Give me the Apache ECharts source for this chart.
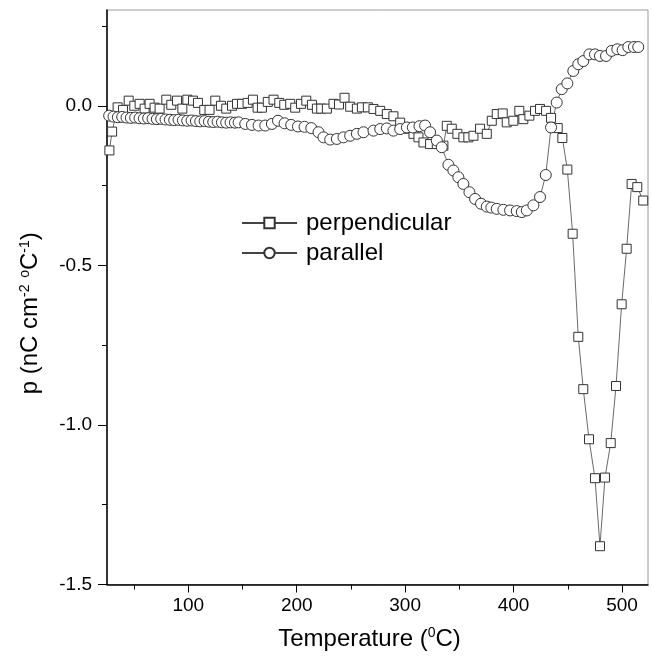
<!DOCTYPE html>
<html>
<head>
<meta charset="utf-8">
<script src="https://cdn.jsdelivr.net/npm/echarts@6/dist/echarts.min.js"></script>
<style>
html, body { margin: 0; padding: 0; background: #fff; }
#chartmain { width: 652px; height: 656px; }
</style>
</head>
<body>
<div id="chartmain"></div>
<script>
// perpendicular (squares)
var perpT = [27.2, 29.7, 34.8, 39.8, 45.0, 50.2, 55.1, 59.7, 64.3, 68.9, 73.5, 79.7, 84.3, 89.6, 94.5, 99.1,
    104.3, 108.9, 114.7, 119.6, 124.9, 130.1, 135.0, 140.3, 144.9, 149.5, 154.7, 159.6, 163.9, 167.9, 173.3,
    178.6, 183.9, 188.5, 194.0, 198.6, 203.9, 208.8, 214.0, 218.6, 222.6, 227.8, 233.9, 239.0, 244.1, 249.3,
    255.5, 260.1, 265.6, 270.8, 277.0, 283.1, 289.2, 295.4, 301.6, 307.7, 312.3, 316.9, 323.0, 329.2, 335.3,
    338.4, 343.0, 348.2, 353.7, 358.3, 363.0, 369.1, 375.3, 379.9, 384.5, 390.0, 393.7, 399.8, 405.3, 409.0,
    414.6, 419.8, 424.4, 430.0, 434.6, 440.7, 445.0, 449.6, 454.5, 459.7, 464.3, 469.6, 475.1, 479.7, 484.3,
    489.6, 494.5, 499.7, 504.3, 508.9, 514.1, 519.6];
var perpP = [-0.140, -0.081, -0.005, -0.013, 0.016, 0.000, 0.006, -0.009, 0.006, -0.006, -0.009, 0.019, 0.003, 0.016, -0.009, 0.019,
    0.016, 0.009, -0.013, -0.013, 0.016, 0.000, -0.009, 0.000, 0.006, 0.006, 0.009, 0.019, -0.006, -0.006, 0.012,
    0.019, 0.009, 0.003, 0.006, -0.006, 0.006, 0.016, 0.003, -0.009, -0.009, -0.009, 0.006, 0.004, 0.025, -0.003,
    -0.009, -0.005, -0.005, -0.010, -0.016, -0.026, -0.033, -0.053, -0.072, -0.088, -0.099, -0.115, -0.120, -0.120, -0.125,
    -0.063, -0.072, -0.088, -0.099, -0.099, -0.094, -0.072, -0.088, -0.047, -0.026, -0.024, -0.052, -0.047, -0.016, -0.042,
    -0.031, -0.016, -0.010, -0.016, -0.038, -0.070, -0.101, -0.200, -0.401, -0.724, -0.888, -1.045, -1.167, -1.380, -1.165,
    -1.057, -0.878, -0.622, -0.448, -0.245, -0.255, -0.297];

// parallel (circles)
var parT = [27, 31, 35, 39, 43, 47, 51, 55, 59, 63, 67, 71, 75, 79, 83, 87, 91, 95, 99, 103, 107, 111, 115, 119,
    123, 127, 131, 135, 139, 143, 146.4, 152.5, 158.7, 164.8, 171.0, 177.1, 182.7, 188.8, 194.9, 201.1, 207.2,
    213.4, 220.1, 224.7, 230.9, 237.0, 243.1, 249.3, 255.5, 261.6, 270.8, 277.0, 283.1, 289.2, 295.4, 301.6,
    307.1, 313.2, 318.4, 323.0, 329.2, 333.8, 339.9, 344.5, 349.1, 353.7, 359.3, 364.5, 370.0, 375.3, 379.5,
    384.5, 390.6, 396.8, 402.9, 407.6, 412.2, 418.3, 424.4, 429.7, 434.6, 439.8, 444.4, 449.6, 455.1, 459.7,
    464.3, 469.9, 475.1, 479.7, 485.3, 490.5, 495.7, 500.6, 505.8, 511.0, 515.0];
var parP = [-0.031, -0.034, -0.036, -0.035, -0.037, -0.038, -0.037, -0.039, -0.040, -0.039, -0.041, -0.042, -0.041, -0.043, -0.044, -0.045,
    -0.044, -0.046, -0.047, -0.046, -0.048, -0.049, -0.048, -0.050, -0.051, -0.050, -0.052, -0.053, -0.052, -0.053, -0.052,
    -0.057, -0.060, -0.062, -0.062, -0.057, -0.047, -0.055, -0.060, -0.065, -0.066, -0.070, -0.083, -0.099, -0.106, -0.104,
    -0.099, -0.094, -0.088, -0.083, -0.078, -0.073, -0.071, -0.078, -0.073, -0.068, -0.068, -0.064, -0.062, -0.083, -0.109,
    -0.130, -0.185, -0.203, -0.224, -0.245, -0.271, -0.292, -0.307, -0.316, -0.319, -0.323, -0.326, -0.328, -0.330, -0.333,
    -0.328, -0.312, -0.286, -0.217, -0.068, 0.010, 0.052, 0.070, 0.109, 0.130, 0.140, 0.161, 0.161, 0.156, 0.156,
    0.172, 0.177, 0.174, 0.184, 0.184, 0.184];

var xLabels = [100, 200, 300, 400, 500];
var xMinorTicks = [50, 150, 250, 350, 450];
var yLabels = [-1.5, -1.0, -0.5, 0.0];
var yMinorTicks = [-1.25, -0.75, -0.25, 0.25];

function zip(a, b) {
    var out = [];
    for (var i = 0; i < a.length; i++) out.push([a[i], b[i]]);
    return out;
}

var font = 'Liberation Sans, Arial, sans-serif';
var supStyle = {fontSize: 14, verticalAlign: 'bottom', padding: [0, 0, 11, 0], fontFamily: font};
var myChart = echarts.init(document.getElementById('chartmain'), null, {renderer: 'canvas'});

var option = {
    animation: false,
    textStyle: {fontFamily: font},
    grid: {left: 107, right: 4, top: 10, bottom: 71, show: true, borderColor: '#9a9a9a', borderWidth: 1},
    legend: {
        left: 241, top: 211, orient: 'vertical', padding: 0,
        itemWidth: 55, itemHeight: 13, itemGap: 6,
        data: ['perpendicular', 'parallel'],
        textStyle: {fontSize: 24, lineHeight: 24, color: '#000', fontFamily: font, padding: [0, 0, 0, 4]}
    },
    xAxis: [{
        type: 'value', min: 25, max: 524,
        name: 'Temperature ({sup|0}C)',
        nameLocation: 'middle', nameGap: 42,
        nameTextStyle: {fontSize: 24, color: '#000', fontFamily: font, padding: [0, 16, 0, 0], rich: {sup: supStyle}},
        splitLine: {show: false},
        axisLine: {onZero: false, lineStyle: {color: '#000', width: 1.5}},
        axisTick: {customValues: xLabels, length: 8, lineStyle: {color: '#000'}},
        axisLabel: {customValues: xLabels, fontSize: 19, color: '#000', margin: 12, fontFamily: font}
    }, {
        type: 'value', min: 25, max: 524, position: 'bottom', offset: 0,
        splitLine: {show: false},
        axisLine: {show: false, onZero: false},
        axisTick: {customValues: xMinorTicks, length: 5, lineStyle: {color: '#000'}},
        axisLabel: {show: false}
    }],
    yAxis: [{
        type: 'value', min: -1.5, max: 0.3,
        name: 'p (nC cm{sup|-2} {sup|o}C{sup|-1})',
        nameLocation: 'middle', nameGap: 64, nameRotate: 90,
        nameTextStyle: {fontSize: 24, color: '#000', fontFamily: font, padding: [0, 32, 0, 0], rich: {sup: supStyle}},
        splitLine: {show: false},
        axisLine: {onZero: false, lineStyle: {color: '#000', width: 1.5}},
        axisTick: {customValues: yLabels, length: 9, lineStyle: {color: '#000'}},
        axisLabel: {
            customValues: yLabels, fontSize: 19, color: '#000', margin: 15, fontFamily: font,
            formatter: function (v) { return (Math.abs(v) < 1e-9 ? 0 : v).toFixed(1); }
        }
    }, {
        type: 'value', min: -1.5, max: 0.3, position: 'left', offset: 0,
        splitLine: {show: false},
        axisLine: {show: false, onZero: false},
        axisTick: {customValues: yMinorTicks, length: 5, lineStyle: {color: '#000'}},
        axisLabel: {show: false}
    }],
    series: [{
        name: 'perpendicular',
        type: 'line',
        xAxisIndex: 0, yAxisIndex: 0,
        data: zip(perpT, perpP),
        symbol: 'rect', symbolSize: 9,
        showAllSymbol: true,
        itemStyle: {color: '#fff', borderColor: '#333', borderWidth: 1},
        lineStyle: {color: '#444', width: 0.8}
    }, {
        name: 'parallel',
        type: 'line',
        xAxisIndex: 0, yAxisIndex: 0,
        data: zip(parT, parP),
        symbol: 'circle', symbolSize: 11,
        showAllSymbol: true,
        itemStyle: {color: '#fff', borderColor: '#333', borderWidth: 1},
        lineStyle: {color: '#444', width: 0.8}
    }]
};
myChart.setOption(option);
</script>
</body>
</html>
